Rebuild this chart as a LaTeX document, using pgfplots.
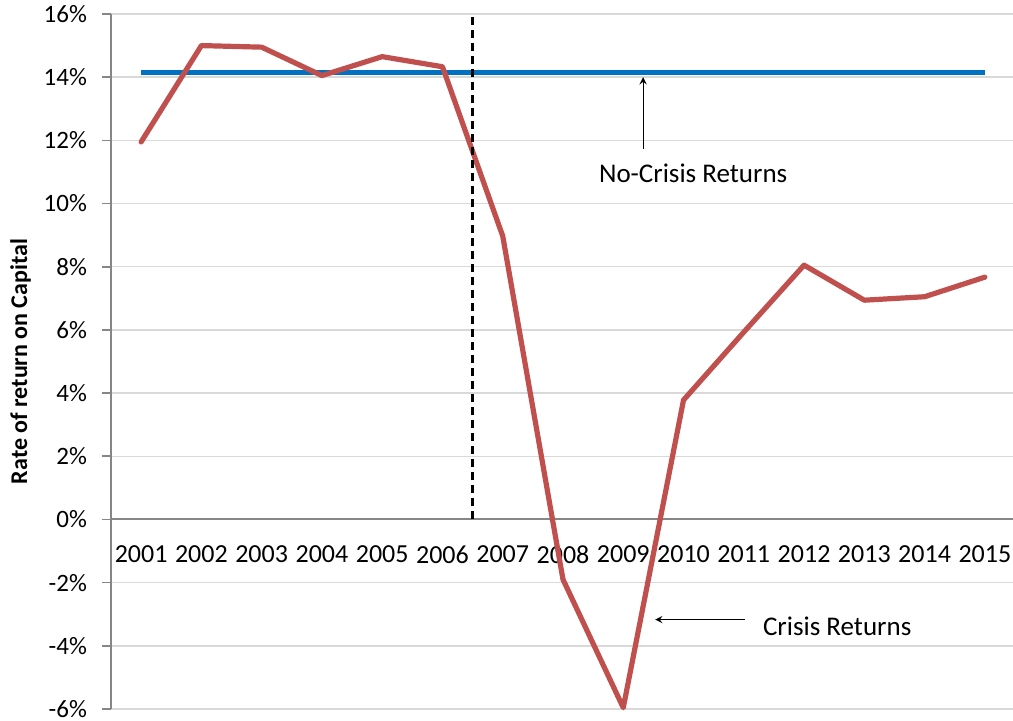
\documentclass[border=0pt]{standalone}
\usepackage{pgfplots}
\pgfplotsset{compat=1.18}
\usepackage{fontspec}
\setmainfont{Carlito}
\definecolor{cred}{HTML}{C0504D}
\definecolor{cblue}{HTML}{0070C0}
\definecolor{axgray}{HTML}{868686}
\definecolor{grgray}{HTML}{D9D9D9}
\begin{document}
\begin{tikzpicture}
\begin{axis}[
  name=ax,
  scale only axis,
  width=452pt, height=347.5pt,
  xmin=0.5, xmax=15.5, ymin=-6, ymax=16,
  axis x line=middle, axis y line=left,
  axis line style={-, draw=axgray, line width=1pt},
  xtick={1,...,15},
  xticklabels={2001,2002,2003,2004,2005,2006,2007,2008,2009,2010,2011,2012,2013,2014,2015},
  x tick label style={font=\fontsize{13}{15}\selectfont, yshift=-5pt},
  major x tick style={draw=none},
  extra x ticks={1.5,2.5,3.5,4.5,5.5,6.5,7.5,8.5,9.5,10.5,11.5,12.5,13.5,14.5},
  extra x tick labels={},
  extra x tick style={major tick length=6pt, tick align=inside, major tick style={draw=axgray, line width=0.8pt, yshift=-3pt}},
  ytick={-6,-4,...,16},
  yticklabels={-6\%,-4\%,-2\%,0\%,2\%,4\%,6\%,8\%,10\%,12\%,14\%,16\%},
  y tick label style={font=\fontsize{12.5}{14}\selectfont, xshift=-4pt},
  tick align=outside,
  major tick length=4.5pt,
  y tick style={draw=axgray, line width=0.8pt},
  ymajorgrids,
  grid style={draw=grgray, line width=0.7pt},
  ylabel={Rate of return on Capital},
  ylabel style={font=\bfseries\fontsize{12}{14}\selectfont, yshift=-0.5pt},
  clip=false,
]
\addplot[cblue, line width=2.6pt] coordinates {(1,14.15) (15,14.15)};
\addplot[cred, line width=2.6pt, line join=round, line cap=round] coordinates {
(1,11.95) (2,15.0) (3,14.95) (4,14.05) (5,14.65) (6,14.33) (7,8.97) (8,-1.9) (9,-5.96) (10,3.78) (11,5.93) (12,8.05) (13,6.94) (14,7.05) (15,7.67)};
\addplot[black, line width=1.3pt, dash pattern=on 4pt off 2.5pt] coordinates {(6.5,0) (6.5,16)};
\draw[-stealth, black, line width=0.6pt] (axis cs:9.33,11.73) -- (axis cs:9.33,14.0);
\node[font=\fontsize{13.5}{15}\selectfont] at (axis cs:10.16,10.97) {No-Crisis Returns};
\draw[-stealth, black, line width=0.6pt] (axis cs:11.02,-3.17) -- (axis cs:9.53,-3.17);
\node[font=\fontsize{13.5}{15}\selectfont] at (axis cs:12.55,-3.39) {Crisis Returns};
\end{axis}
\pgfresetboundingbox
\path ([xshift=-55.5pt,yshift=-6pt]ax.south west) rectangle ([xshift=-1pt,yshift=7pt]ax.north east);
\end{tikzpicture}
\end{document}
